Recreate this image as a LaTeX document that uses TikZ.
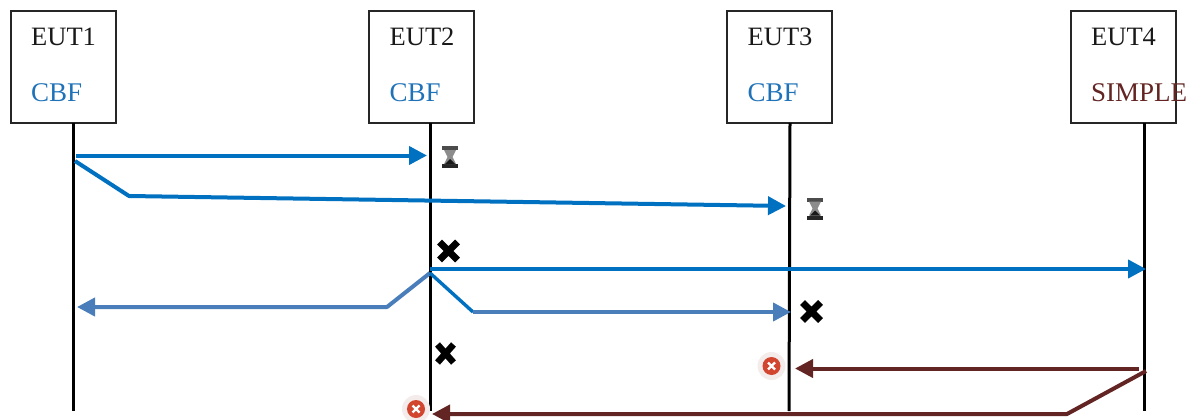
\documentclass[tikz,border=0pt]{standalone}
\usepackage{fontspec}
\setmainfont{Liberation Serif}
\usetikzlibrary{arrows.meta}
\definecolor{cblue}{HTML}{0070C0}
\definecolor{mblue}{HTML}{4A7EBB}
\definecolor{maroon}{HTML}{632523}
\definecolor{redmark}{HTML}{D2452F}
\definecolor{halo}{HTML}{F3ECEB}
\definecolor{cbftext}{HTML}{1F72B8}
\tikzset{
  eutbox/.style={draw=black!85,line width=1.6pt,minimum width=105pt,minimum height=112pt,inner sep=0pt,outer sep=0pt,anchor=north west},
  eutname/.style={font=\fontsize{26.5}{26.5}\selectfont,text=black!90,anchor=base west,inner sep=0pt},
  cbfname/.style={font=\fontsize{27}{27}\selectfont,text=cbftext,anchor=base west,inner sep=0pt},
  simplename/.style={font=\fontsize{27}{27}\selectfont,text=maroon,anchor=base west,inner sep=0pt},
  life/.style={line width=3pt,black},
  msgb/.style={line width=4pt,cblue},
  msgm/.style={line width=4pt,mblue},
  msgr/.style={line width=4pt,maroon},
  tip/.style={-{Triangle[length=18pt,width=18pt]}},
  xmark/.pic={\draw[black,line width=7pt] (-9,-9)--(9,9) (-9,9)--(9,-9);},
  smallx/.pic={\draw[black,line width=6.5pt] (-8,-9)--(8,9) (-8,9)--(8,-9);},
  hourglass/.pic={
    \fill[black!70] (-8,-11) rectangle (8,-7);
    \fill[black!85] (-8,7) rectangle (8,11);
    \fill[black!45] (-6,-7)--(6,-7)--(2.5,0)--(6,7)--(-6,7)--(-2.5,0)--cycle;
    \fill[black!90] (-5,7)--(5,7)--(0,2)--cycle;},
  errmark/.pic={
    \fill[halo] (0,0) circle (14);
    \fill[redmark] (0,0) circle (9);
    \draw[white,line width=2.4pt] (-3.5,-3.5)--(3.5,3.5) (-3.5,3.5)--(3.5,-3.5);}
}
\begin{document}
\begin{tikzpicture}[x=1pt,y=-1pt]
\useasboundingbox (0,0) rectangle (1194,420);
% boxes
\node[eutbox] (b1) at (11,11) {};
\node[eutbox] (b2) at (369,11) {};
\node[eutbox] (b3) at (727,11) {};
\node[eutbox] (b4) at (1071,11) {};
% labels
\node[eutname] (n1) at (31,46) {EUT1};
\node[eutname] (n2) at (389.5,46) {EUT2};
\node[eutname] (n3) at (747.5,46) {EUT3};
\node[eutname] (n4) at (1091,46) {EUT4};
\node[cbfname] (c1) at (31,101) {CBF};
\node[cbfname] (c2) at (389.5,101) {CBF};
\node[cbfname] (c3) at (747.5,101) {CBF};
\node[simplename] (c4) at (1091,101) {SIMPLE};
% lifeline ends
\coordinate (t1) at (73,123);
\coordinate (t2) at (430,123);
\coordinate (t3) at (790,123);
\coordinate (t4) at (1144,123);
\coordinate (e1) at (73,411);
\coordinate (e2) at (430,411);
\coordinate (e3) at (789,411);
\coordinate (e4) at (1144,411);
\draw[life] (t1)--(e1);
\draw[life] (t2)--(e2);
\draw[life] (t3)--(e3);
\draw[life] (t4)--(e4);
% message points
\coordinate (a0) at (76,155.5);
\coordinate (a1) at (427,155.5);
\coordinate (d0) at (75,161);
\coordinate (d1) at (129,196);
\coordinate (d2) at (786,206);
\coordinate (f0) at (430,269);
\coordinate (f1) at (1146,269);
\coordinate (g0) at (430,273);
\coordinate (g1) at (387,307);
\coordinate (g2) at (77,307);
\coordinate (h1) at (473,312);
\coordinate (h2) at (791,312);
\coordinate (i0) at (1139,368.5);
\coordinate (i1) at (795,368.5);
\coordinate (j0) at (1146,371);
\coordinate (j1) at (1067,414);
\coordinate (j2) at (432,414);
% messages
\draw[msgb,tip] (a0)--(a1);
\draw[msgb,tip,line join=round] (d0)--(d1)--(d2);
\draw[msgb,tip] (f0)--(f1);
\draw[msgm,tip,line join=round] (g0)--(g1)--(g2);
\draw[msgb,line width=3.4pt] (g0)--(h1);
\draw[msgm,tip] (h1)--(h2);
\draw[msgr,tip] (i0)--(i1);
\draw[msgr,tip,line join=round] (j0)--(j1)--(j2);
% markers
\pic at (450,157) {hourglass};
\pic at (815,208.5) {hourglass};
\pic at (448.5,251) {xmark};
\pic at (811.5,311.5) {xmark};
\pic at (445.5,353.5) {smallx};
\pic at (771.5,366) {errmark};
\pic at (416,409) {errmark};
\end{tikzpicture}
\end{document}
